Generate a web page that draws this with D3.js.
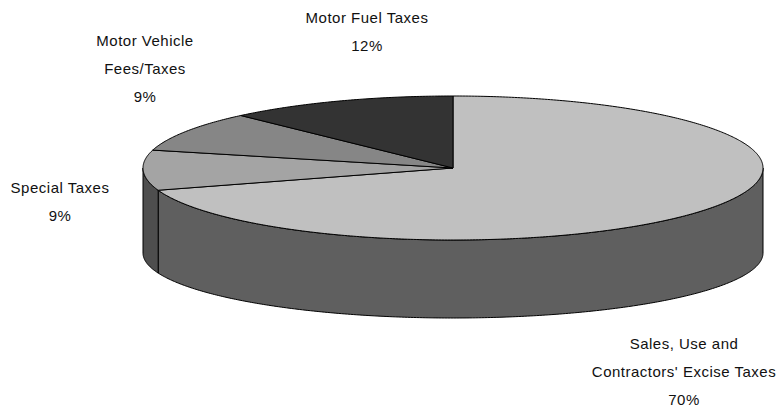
<!DOCTYPE html>
<html>
<head>
<meta charset="utf-8">
<script src="https://cdn.jsdelivr.net/npm/d3@7/dist/d3.min.js"></script>
<style>
  html, body { margin: 0; padding: 0; background: #fff; }
  svg { display: block; }
  text { font-family: "Liberation Sans", Arial, sans-serif; font-size: 15px; letter-spacing: 0.5px; fill: #111; }
</style>
</head>
<body>
<svg id="chart" width="780" height="408"></svg>
<script>
// Tax revenue shares (percent), clockwise from 12 o'clock
const categories = ["Sales, Use and Contractors' Excise Taxes", "Special Taxes", "Motor Vehicle Fees/Taxes", "Motor Fuel Taxes"];
const shares = [70, 9, 9, 12];
const labelLines = [
  ["Sales, Use and", "Contractors' Excise Taxes", "70%"],
  ["Special Taxes", "9%"],
  ["Motor Vehicle", "Fees/Taxes", "9%"],
  ["Motor Fuel Taxes", "12%"]
];
const topColors = ["#c0c0c0", "#a4a4a4", "#868686", "#333333"];
const wallColors = ["#5f5f5f", "#4e4e4e", "#424242", "#1e1e1e"];

const svg = d3.select("#chart");

// Pie geometry: top face ellipse and a slightly flatter bottom ellipse
const cx = 453, cyTop = 168, rx = 310, ryTop = 72;
const cyBot = 253, ryBot = 65;

const pie = d3.pie().sort(null).value(d => d).startAngle(0).endAngle(2 * Math.PI);
const arcs = pie(shares);

// Angle measured clockwise from 12 o'clock
const topPt = a => [cx + rx * Math.sin(a), cyTop - ryTop * Math.cos(a)];
const botPt = a => [cx + rx * Math.sin(a), cyBot - ryBot * Math.cos(a)];
const sampleAngles = (a0, a1) => {
  const n = Math.max(2, Math.ceil((a1 - a0) / 0.01));
  return d3.range(n + 1).map(i => a0 + (a1 - a0) * i / n);
};
const line = d3.line();

// Side walls: visible front half, from the right edge (pi/2) to the left edge (3pi/2)
const gWall = svg.append("g");
arcs.forEach((d, i) => {
  const a0 = Math.max(d.startAngle, Math.PI / 2);
  const a1 = Math.min(d.endAngle, 3 * Math.PI / 2);
  if (a1 <= a0) return;
  const angs = sampleAngles(a0, a1);
  const pts = angs.map(topPt).concat(angs.slice().reverse().map(botPt));
  gWall.append("path")
    .attr("d", line(pts) + "Z")
    .attr("fill", wallColors[i])
    .attr("stroke", "#000")
    .attr("stroke-width", 1)
    .attr("stroke-linejoin", "round");
});

// Top face slices
const gTop = svg.append("g");
arcs.forEach((d, i) => {
  const pts = [[cx, cyTop]].concat(sampleAngles(d.startAngle, d.endAngle).map(topPt));
  gTop.append("path")
    .attr("d", line(pts) + "Z")
    .attr("fill", topColors[i])
    .attr("stroke", "#000")
    .attr("stroke-width", 1)
    .attr("stroke-linejoin", "round");
});

// Data labels
const labelPos = [[684, 343], [60, 187], [145, 40], [367, 17]];
const lineGap = 28;
const gLab = svg.append("g").attr("text-anchor", "middle");
labelLines.forEach((lines, i) => {
  const t = gLab.append("text")
    .attr("x", labelPos[i][0])
    .attr("y", labelPos[i][1])
    .attr("dominant-baseline", "central");
  lines.forEach((s, k) => {
    t.append("tspan")
      .attr("x", labelPos[i][0])
      .attr("dy", k === 0 ? 0 : lineGap)
      .text(s);
  });
});
</script>
</body>
</html>
